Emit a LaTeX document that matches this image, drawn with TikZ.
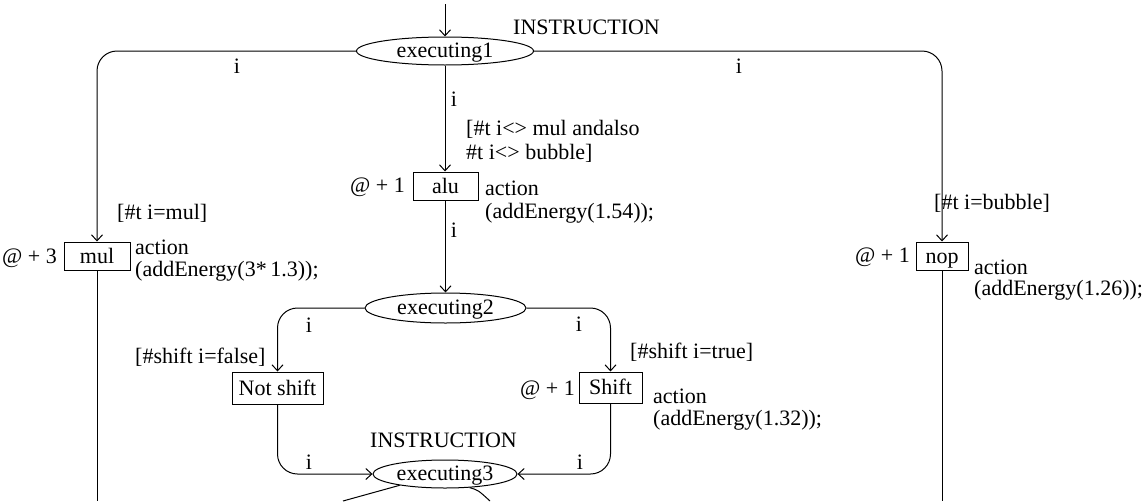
\documentclass[tikz,border=0pt]{standalone}
\usepackage{fontspec}
\setmainfont{Liberation Serif}
\usetikzlibrary{arrows.meta,shapes.geometric}
\begin{document}
\begin{tikzpicture}[x=1pt,y=-1pt,
  every node/.style={font=\fontsize{22}{25}\selectfont},
  lab/.style={inner sep=0pt, anchor=base west},
  labr/.style={inner sep=0pt, anchor=base east},
  lbl/.style={inner sep=0pt, anchor=base},
  place/.style={ellipse, draw, line width=1pt, inner sep=0pt, text height=14pt, text depth=1pt},
  trans/.style={rectangle, draw, line width=1pt, inner sep=0pt, text height=14pt, text depth=0pt},
  arc/.style={line width=1pt, -{Straight Barb[length=6pt,width=11pt,line width=1pt]}},
  plain/.style={line width=1pt},
  rc/.style={rounded corners=20pt}
]
\useasboundingbox (0,0) rectangle (1146,501);
% places
\node[place, minimum width=177pt, minimum height=28pt] (e1) at (445,51) {executing1};
\node[place, minimum width=161pt, minimum height=30pt] (e2) at (445.5,308) {executing2};
\node[place, minimum width=144pt, minimum height=28pt] (e3) at (445,474) {executing3};
% transitions
\node[trans, minimum width=65pt, minimum height=28pt] (alu) at (445.5,186) {alu};
\node[trans, minimum width=66pt, minimum height=28pt] (mul) at (97,256) {mul};
\node[trans, minimum width=52pt, minimum height=28pt] (nop) at (942,256) {nop};
\node[trans, minimum width=91pt, minimum height=32pt] (ns) at (277.5,388) {Not shift};
\node[trans, minimum width=63pt, minimum height=31pt] (sh) at (610.5,387.5) {Shift};
% connectors
\coordinate (start) at (445,4);
\draw[arc] (start) -- (e1);
\draw[arc, rc] (e1.west) -| (mul.north);
\draw[arc, rc] (e1.east) -| (nop.north);
\draw[arc] (e1.south) -- (e1.south |- alu.north);
\draw[arc] (alu.south) -- (alu.south |- e2.north);
\draw[arc, rc] (e2.west) -| (ns.north);
\draw[arc, rc] (e2.east) -| (sh.north);
\draw[arc, rc] (ns.south) |- (e3.west);
\draw[arc, rc] (sh.south) |- (e3.east);
\coordinate (mulend) at (97,501);
\draw[plain] (mul.south) -- (mulend);
\coordinate (nopend) at (942,501);
\draw[plain] (nop.south) -- (nopend);
\coordinate (bl) at (343,501);
\draw[plain] (e3.194) -- (bl);
\coordinate (br) at (490,501);
\draw[plain] (e3.331) .. controls (478,490) .. (br);
% labels
\node[lab] (ins1) at (513,34) {INSTRUCTION};
\node[lbl] (i1) at (237,73) {i};
\node[lbl] (i2) at (739,73) {i};
\node[lbl] (i3) at (454,106) {i};
\node[lab] (g1a) at (466,135) {[\#t i<> mul andalso};
\node[lab] (g1b) at (466,159) {\#t i<> bubble]};
\node[labr] (a1) at (405,192) {@ + 1};
\node[lab] (aa1) at (485,195) {action};
\node[lab] (aa2) at (485,218) {(addEnergy(1.54));};
\node[lbl] (i4) at (454,237) {i};
\node[lab] (gm) at (117,219) {[\#t i=mul]};
\node[labr] (a3) at (57,263) {@ + 3};
\node[lab] (ma1) at (135,254) {action};
\node[lab] (ma2) at (135,276) {(addEnergy(3*\,1.3));};
\node[lab] (gb) at (934,209) {[\#t i=bubble]};
\node[labr] (an) at (910,262) {@ + 1};
\node[lab] (na1) at (974,274) {action};
\node[lab] (na2) at (974,295) {(addEnergy(1.26));};
\node[lbl] (i5) at (309,332) {i};
\node[lbl] (i6) at (579,331) {i};
\node[lab] (gf) at (135,363) {[\#shift i=false]};
\node[lab] (gt) at (630,358) {[\#shift i=true]};
\node[labr] (as) at (575,395) {@ + 1};
\node[lab] (sa1) at (653,403) {action};
\node[lab] (sa2) at (653,425) {(addEnergy(1.32));};
\node[lab] (ins3) at (370,447) {INSTRUCTION};
\node[lbl] (i7) at (309,469) {i};
\node[lbl] (i8) at (580,469) {i};
\end{tikzpicture}
\end{document}
